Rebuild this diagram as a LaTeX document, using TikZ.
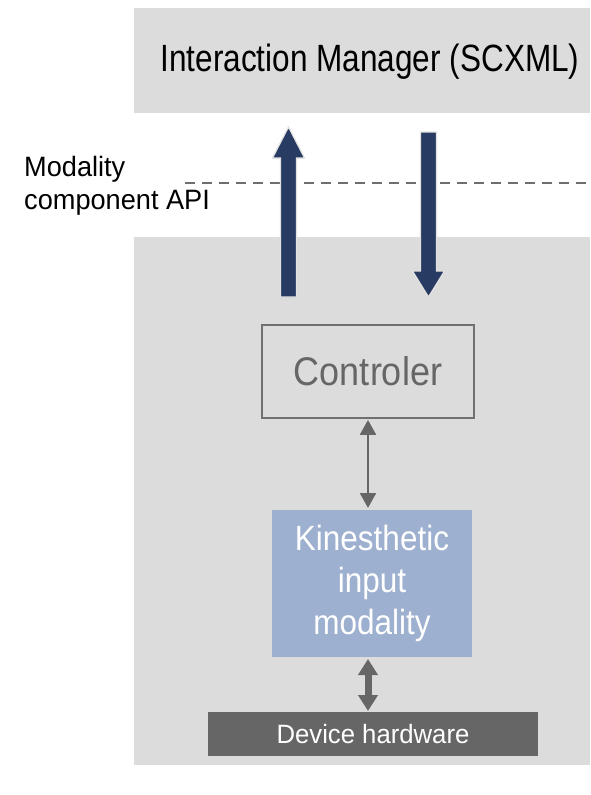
\documentclass[tikz,border=0pt]{standalone}
\usepackage{fontspec}
\setmainfont{Liberation Sans}
\newfontfamily\imfont[FakeStretch=0.83]{Liberation Sans}
\newfontfamily\midfont[FakeStretch=0.9]{Liberation Sans}
\newfontfamily\plainfont[FakeStretch=0.97]{Liberation Sans}
\usetikzlibrary{arrows.meta}
\definecolor{bggray}{HTML}{DCDCDC}
\definecolor{navyarrow}{HTML}{283B62}
\definecolor{arrowedge}{HTML}{E2E2E2}
\definecolor{dashgray}{HTML}{6E6E6E}
\definecolor{ctrlgray}{HTML}{707070}
\definecolor{kinblue}{HTML}{9DB0CF}
\definecolor{devgray}{HTML}{666666}
\tikzset{
  panel/.style={fill=bggray, draw=none, inner sep=0pt},
  ctrlbox/.style={fill=bggray, draw=ctrlgray, line width=1.8pt, inner sep=0pt, text=devgray, font=\midfont\fontsize{40}{46}\selectfont},
  kinbox/.style={fill=kinblue, draw=none, inner sep=0pt, text=white, align=center, font=\midfont\fontsize{35}{42}\selectfont},
  devbox/.style={fill=devgray, draw=none, inner sep=0pt, text=white, font=\plainfont\fontsize{26.5}{30}\selectfont},
  bigarrow/.style={fill=navyarrow, draw=arrowedge, line width=1.2pt, line join=miter},
  thinlink/.style={draw=devgray, line width=2.2pt, {Triangle[width=16pt,length=15pt]}-{Triangle[width=16pt,length=15pt]}},
  thicklink/.style={draw=devgray, line width=7pt, {Triangle[width=19pt,length=16pt]}-{Triangle[width=19pt,length=16pt]}},
  apiline/.style={draw=dashgray, line width=2pt, dash pattern=on 10pt off 7pt}
}
\begin{document}
\begin{tikzpicture}[x=1pt,y=-1pt]
\useasboundingbox (0,0) rectangle (590,795);
\fill[white] (0,0) rectangle (590,795);
% panels
\node[panel, minimum width=456pt, minimum height=105pt] (im) at (362,60.5) {};
\node[font=\imfont\fontsize{38}{44}\selectfont, anchor=center] (imtext) at (370,62) {Interaction Manager (SCXML)};
\node[panel, minimum width=456pt, minimum height=528pt] (mc) at (362,501) {};
% API boundary
\coordinate (dashL) at (185,183);
\coordinate (dashR) at (590,183);
\draw[apiline] (dashL) -- (dashR);
\node[anchor=west, align=left, inner sep=0pt, font=\plainfont\fontsize{28}{33}\selectfont] (apilabel) at (24,186) {Modality\\component API};
% big arrows
\coordinate (upS) at (288.5,297);
\coordinate (upT) at (288.5,127);
\draw[bigarrow] (upS) ++(-8,0) -- ++(0,-139) -- ++(-8,0) -- (upT) -- ++(16,31) -- ++(-8,0) -- ++(0,139) -- cycle;
\coordinate (dnS) at (428.5,132);
\coordinate (dnT) at (428.5,297);
\draw[bigarrow] (dnS) ++(-8,0) -- ++(0,139) -- ++(-8,0) -- (dnT) -- ++(16,-26) -- ++(-8,0) -- ++(0,-139) -- cycle;
% controller and modality
\node[ctrlbox, minimum width=212pt, minimum height=93pt] (ctrl) at (368,371.5) {Controler};
\node[kinbox, minimum width=200pt, minimum height=147pt] (kin) at (372,583.5) {Kinesthetic\\input\\modality};
\node[devbox, minimum width=330pt, minimum height=44pt] (dev) at (373,734) {Device hardware};
\draw[thinlink] (ctrl.south -| 368,0) ++(0,1) -- (368,508);
\coordinate (kinB) at (368,659);
\coordinate (devT) at (368,711);
\draw[thicklink] (kinB) -- (devT);
\end{tikzpicture}
\end{document}
